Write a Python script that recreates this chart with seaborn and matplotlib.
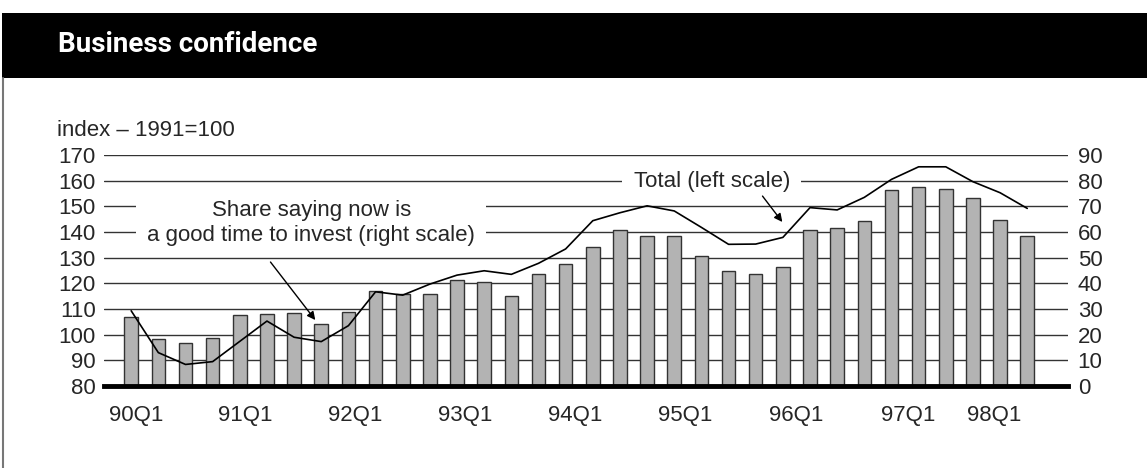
import pandas as pd
import matplotlib.pyplot as plt
import seaborn as sns
from matplotlib.patches import Rectangle
from matplotlib.lines import Line2D

sns.set_style('white')
plt.rcParams['font.family'] = ['Liberation Sans', 'DejaVu Sans']

# Dados: trimestres 90Q1 a 98Q2
quarters = [f"{y}Q{q}" for y in range(90, 99) for q in range(1, 5)][:34]

# Parcela dizendo que agora é boa hora para investir (escala direita, barras)
share = [27.0, 18.4, 16.9, 18.6, 27.7, 28.0, 28.3, 24.0, 28.8, 37.0,
         35.8, 36.0, 41.3, 40.4, 35.1, 43.8, 47.7, 54.3, 60.6, 58.6,
         58.3, 50.5, 44.7, 43.8, 46.4, 60.6, 61.4, 64.4, 76.4, 77.6,
         76.6, 73.1, 64.7, 58.3]

# Índice total (escala esquerda, linha) 1991=100
total = [109.3, 93.0, 88.4, 89.5, 97.4, 105.3, 99.0, 97.3, 103.5, 116.7,
         115.4, 119.7, 123.2, 124.9, 123.5, 127.8, 133.4, 144.4, 147.5, 150.2,
         148.2, 141.8, 135.2, 135.3, 137.9, 149.5, 148.6, 153.5, 160.5, 165.4,
         165.4, 159.6, 155.3, 149.2]

xtick_labels = ['90Q1', '91Q1', '92Q1', '93Q1', '94Q1', '95Q1', '96Q1', '97Q1', '98Q1']
xtick_pos = [0.2, 4.2, 8.25, 12.3, 16.35, 20.4, 24.5, 28.6, 31.8]

df = pd.DataFrame({'quarter': quarters, 'share': share, 'total': total,
                   'idx': range(len(quarters))})

fig = plt.figure(figsize=(11.47, 4.68), dpi=100)
ax_bars = fig.add_axes([0.0907, 0.1752, 0.8404, 0.4936])

sns.barplot(data=df, x='quarter', y='share', ax=ax_bars, color='#b3b3b3',
            saturation=1, edgecolor='#333333', linewidth=1.0, width=0.5)
ax_bars.set_ylim(0, 90)
ax_bars.set_yticks(range(0, 91, 10))
ax_bars.set_axisbelow(True)
ax_bars.yaxis.grid(True, color='#333333', linewidth=1.0)
ax_bars.set_xlabel('')
ax_bars.set_ylabel('')

ax_line = ax_bars.twinx()
sns.lineplot(data=df, x='idx', y='total', ax=ax_line, color='black', linewidth=1.2)
ax_line.set_ylim(80, 170)
ax_line.set_yticks(range(80, 171, 10))
ax_line.set_ylabel('')
ax_line.set_xlabel('')

# escalas: índice à esquerda, percentual à direita
ax_line.yaxis.tick_left()
ax_bars.yaxis.tick_right()
ax_line.tick_params(axis='y', length=0, pad=6, labelsize=16)
ax_bars.tick_params(axis='y', length=0, pad=7, labelsize=16)

for a in (ax_bars, ax_line):
    for s in a.spines.values():
        s.set_visible(False)
ax_bars.spines['bottom'].set_visible(True)
ax_bars.spines['bottom'].set_linewidth(3.5)
ax_bars.spines['bottom'].set_color('black')

ax_bars.set_xlim(-1, 34.5)
ax_bars.set_xticks(xtick_pos)
ax_bars.set_xticklabels(xtick_labels)
ax_bars.tick_params(axis='x', length=0, pad=14, labelsize=16)

# Anotações
ax_line.text(6.63, 143.7, 'Share saying now is\na good time to invest (right scale)',
             ha='center', va='center', fontsize=16, linespacing=1.25,
             bbox=dict(facecolor='white', edgecolor='none', pad=8))
ax_line.annotate('', xy=(6.78, 105.7), xytext=(5.13, 128.3),
                 arrowprops=dict(arrowstyle='-|>', color='black', lw=1.0,
                                 mutation_scale=12, shrinkA=0, shrinkB=0))
ax_line.text(21.38, 159.5, 'Total (left scale)', ha='center', va='center',
             fontsize=16, bbox=dict(facecolor='white', edgecolor='none', pad=8))
ax_line.annotate('', xy=(23.98, 143.9), xytext=(23.25, 154.0),
                 arrowprops=dict(arrowstyle='-|>', color='black', lw=1.0,
                                 mutation_scale=12, shrinkA=0, shrinkB=0))

# Faixa do título e borda
fig.patches.append(Rectangle((0.002, 0.8333), 0.998, 0.1389, transform=fig.transFigure,
                             facecolor='black', edgecolor='none', zorder=0))
fig.lines.append(Line2D([0.003, 0.003], [0.0, 0.8333], transform=fig.transFigure,
                        color='#777777', linewidth=1.5))
fig.text(0.0506, 0.904, 'Business confidence', color='white', fontsize=20,
         fontweight='semibold', va='center', ha='left',
         family=['Roboto', 'DejaVu Sans'])
fig.text(0.0497, 0.722, 'index – 1991=100', fontsize=16, va='center', ha='left')

fig.savefig('out.png', dpi=100)
